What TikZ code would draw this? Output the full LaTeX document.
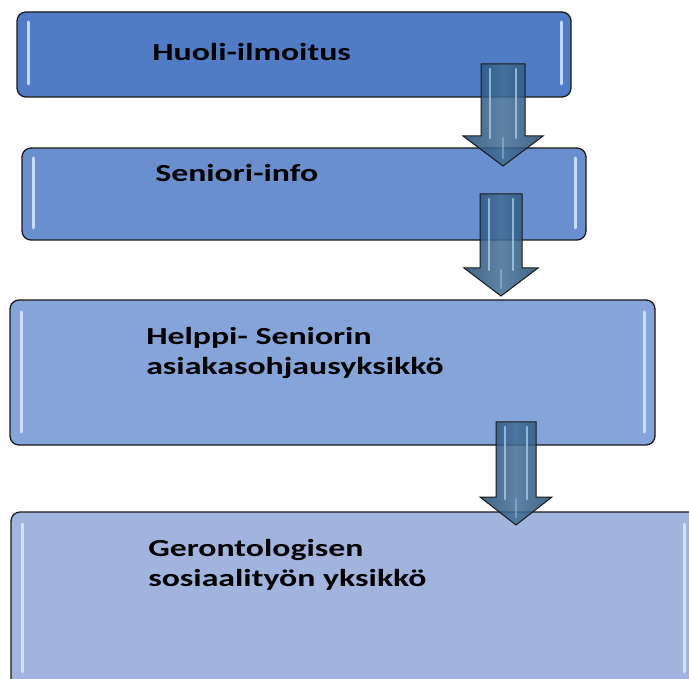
\documentclass[tikz,border=0pt]{standalone}
\usepackage{fontspec}
\setmainfont{Carlito}
\definecolor{boxA}{RGB}{79,124,196}
\definecolor{boxB}{RGB}{106,143,206}
\definecolor{boxC}{RGB}{133,164,217}
\definecolor{boxD}{RGB}{160,180,222}
\definecolor{arrdark}{RGB}{35,75,115}
\definecolor{arrmid}{RGB}{65,110,150}
\definecolor{arrlight}{RGB}{180,215,240}
\definecolor{shinecol}{RGB}{215,235,255}
\definecolor{edge}{RGB}{25,25,25}
\tikzset{
  boxnode/.style={rectangle, rounded corners=9pt, draw=edge, line width=1.3pt,
                  inner sep=0pt, outer sep=0pt, anchor=north west},
  shine/.style={draw=shinecol, line width=3pt, line cap=round, draw opacity=0.85},
  arrowbody/.style={draw=edge, line width=1pt, fill opacity=0.85,
                    left color=arrdark, right color=arrdark, middle color=arrmid},
  arrowshine/.style={draw=arrlight, line width=2.4pt, draw opacity=0.7, line cap=round},
  lbl/.style={font=\fontsize{24.5}{30}\selectfont\bfseries, text=black,
              inner sep=0pt, anchor=base west, xscale=1.38, transform shape}
}
\newcommand\blkarrow[6]{%
  % #1 centre x, #2 half shaft, #3 half head, #4 top y, #5 wing y, #6 tip y
  \draw[arrowbody] (#1-#2,#4) -- (#1+#2,#4) -- (#1+#2,#5) -- (#1+#3,#5)
     -- (#1,#6) -- (#1-#3,#5) -- (#1-#2,#5) -- cycle;
  \draw[arrowshine] (#1-#2+9,#4+5) -- (#1-#2+9,#5+2);
  \draw[arrowshine] (#1+#2-9,#4+5) -- (#1+#2-9,#5+2);
  \draw[arrowshine, draw opacity=0.4] (#1,#5+2) -- (#1,#6-8);
}
\begin{document}
\begin{tikzpicture}[x=1pt,y=-1pt]
\useasboundingbox (0,0) rectangle (689,679);
\fill[white] (0,0) rectangle (689,679);

% boxes
\node[boxnode, fill=boxA, minimum width=554pt, minimum height=85pt] (b1) at (17,12) {};
\node[boxnode, fill=boxB, minimum width=564pt, minimum height=92pt] (b2) at (22,148) {};
\node[boxnode, fill=boxC, minimum width=645pt, minimum height=145pt] (b3) at (10,300) {};
\node[boxnode, fill=boxD, minimum width=700pt, minimum height=190pt] (b4) at (11,512) {};

% inner highlights
\draw[shine] (28,22) -- (28,84);
\draw[shine] (561,22) -- (561,84);
\draw[shine] (33,158) -- (33,228);
\draw[shine] (575,158) -- (575,228);
\draw[shine] (21,312) -- (21,432);
\draw[shine] (644,312) -- (644,432);
\draw[shine] (22,524) -- (22,672);
\draw[shine] (684,524) -- (684,672);

% labels
\node[lbl] (t1) at (152,61) {Huoli-ilmoitus};
\node[lbl] (t2) at (155,182) {Seniori-info};
\node[lbl] (t3a) at (146,345) {Helppi- Seniorin};
\node[lbl] (t3b) at (146,375) {asiakasohjausyksikkö};
\node[lbl] (t4a) at (148,556) {Gerontologisen};
\node[lbl] (t4b) at (148,586) {sosiaalityön yksikkö};

% block arrows
\blkarrow{503}{22}{40}{64}{136}{166}
\blkarrow{501}{21}{37}{194}{268}{296}
\blkarrow{516}{20}{36}{422}{497}{525}
\end{tikzpicture}
\end{document}
